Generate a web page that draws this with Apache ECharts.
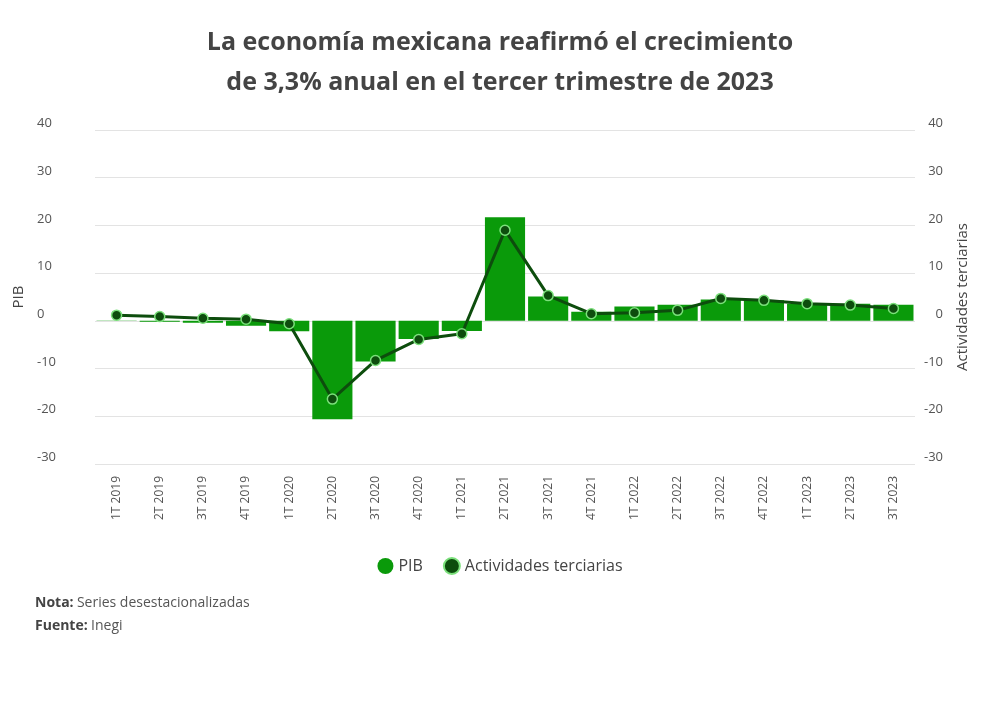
<!DOCTYPE html><html><head><meta charset="utf-8"><script src="https://cdn.jsdelivr.net/npm/echarts@6/dist/echarts.min.js"></script>
<style>body{margin:0}#c{width:1000px;height:710px}</style></head><body><div id="c"></div><script>
const categories=['1T 2019','2T 2019','3T 2019','4T 2019','1T 2020','2T 2020','3T 2020','4T 2020','1T 2021','2T 2021','3T 2021','4T 2021','1T 2022','2T 2022','3T 2022','4T 2022','1T 2023','2T 2023','3T 2023'];
const pib=[0.1,-0.2,-0.4,-1.0,-2.2,-20.6,-8.5,-3.8,-2.1,21.7,5.1,1.9,3.0,3.4,4.5,4.3,3.6,3.6,3.4];
const terciarias=[1.2,0.9,0.55,0.35,-0.6,-16.4,-8.3,-3.9,-2.7,19.0,5.3,1.5,1.7,2.2,4.7,4.3,3.6,3.3,2.6];
const F='"Open Sans", sans-serif';
const ch=echarts.init(document.getElementById('c'));
const ax={type:'value',min:-30,max:40,interval:10,axisLine:{show:false},axisTick:{show:false},
 axisLabel:{color:'#555',fontSize:13,fontFamily:F},nameLocation:'middle',nameTextStyle:{color:'#444',fontSize:15,fontFamily:F}};
ch.setOption({
 title:{text:'La economía mexicana reafirmó el crecimiento\nde 3,3% anual en el tercer trimestre de 2023',left:'center',top:18,
  textStyle:{color:'#444',fontSize:25,fontWeight:'bold',fontFamily:F,lineHeight:40}},
 graphic:[{type:'text',left:35,top:592,style:{rich:{b:{fontWeight:'bold',fontSize:14,fill:'#444',fontFamily:F},n:{fontSize:14,fill:'#555',fontFamily:F}},text:'{b|Nota:} {n|Series desestacionalizadas}\n{b|Fuente:} {n|Inegi}',lineHeight:23}}],
 legend:{top:552,left:'center',itemGap:20,textStyle:{fontSize:16,color:'#444',fontFamily:F},
  data:[{name:'PIB',icon:'circle'},{name:'Actividades terciarias',icon:'circle'}],itemWidth:16,itemHeight:16},
 grid:{left:95,right:85,top:130,bottom:246},
 xAxis:{type:'category',data:categories,axisLine:{show:false},axisTick:{show:false},
  axisLabel:{rotate:90,color:'#555',fontSize:12,fontFamily:F,margin:12}},
 yAxis:[Object.assign({},ax,{name:'PIB',nameGap:52,nameTextStyle:{color:'#444',fontSize:15,fontFamily:F,padding:[0,0,-24,0]},position:'left',splitLine:{lineStyle:{color:'#e3e3e3'}},axisLabel:{color:'#555',fontSize:13,fontFamily:F,align:'left',margin:58,verticalAlign:'bottom'}}),
  Object.assign({},ax,{name:'Actividades terciarias',nameGap:40,position:'right',nameRotate:90,splitLine:{show:false},axisLabel:{color:'#555',fontSize:13,fontFamily:F,align:'right',margin:28,verticalAlign:'bottom'}})],
 series:[{name:'PIB',type:'bar',data:pib,barCategoryGap:'7%',itemStyle:{color:'#0a9a0a'}},
  {name:'Actividades terciarias',type:'line',yAxisIndex:1,data:terciarias,symbol:'circle',symbolSize:10,
   lineStyle:{color:'#0d4d0d',width:3},itemStyle:{color:'#0d4d0d',borderColor:'#7be07b',borderWidth:1.5}}]
});
</script></body></html>
